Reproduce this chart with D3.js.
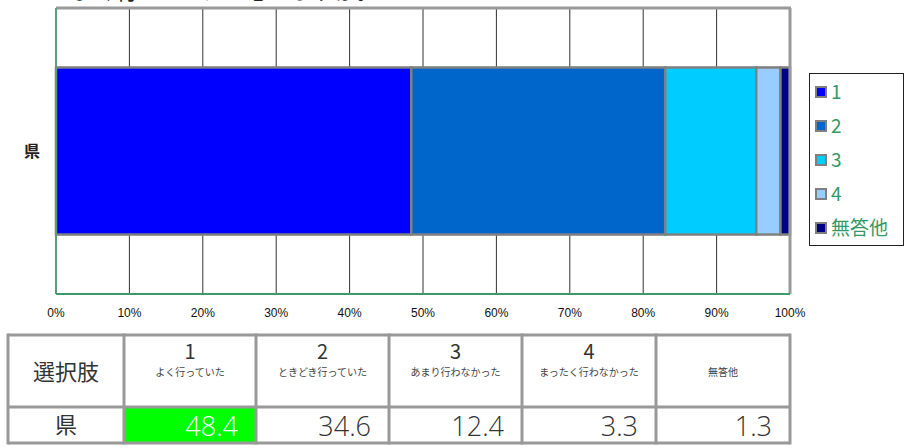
<!DOCTYPE html>
<html><head><meta charset="utf-8">
<script src="https://cdn.jsdelivr.net/npm/d3@7"></script>
<style>body{margin:0;background:#fff;}svg{display:block;font-family:"Noto Sans CJK JP","Noto Sans",sans-serif;}</style>
</head><body>
<svg id="c" width="922" height="448"></svg>
<script>
const title = "よく行っていたと思いますか。";
const categories = ["県"];
const seriesNames = ["1", "2", "3", "4", "無答他"];
const seriesLabels = ["よく行っていた", "ときどき行っていた", "あまり行わなかった", "まったく行わなかった", "無答他"];
const values = [48.4, 34.6, 12.4, 3.3, 1.3];
const colors = ["#0000FF", "#0066CC", "#00CCFF", "#99CCFF", "#000080"];
const tickValues = [0,10,20,30,40,50,60,70,80,90,100];

const svg = d3.select("#c");
const x = d3.scaleLinear().domain([0,100]).range([56,790]);
const y = d3.scaleBand().domain(categories).range([8,294]).paddingInner(0).paddingOuter(0.356);

// title (cut off at top, as in the reference)
svg.append("text").attr("x",72).attr("y",-1).attr("font-size",22).attr("fill","#222").text(title);

// plot background
svg.append("rect").attr("x",x(0)).attr("y",8).attr("width",x(100)-x(0)).attr("height",286).attr("fill","#fff");

// gridlines
svg.append("g").selectAll("line").data(tickValues.slice(1,-1)).join("line")
  .attr("x1",d=>x(d)).attr("x2",d=>x(d)).attr("y1",8).attr("y2",294)
  .attr("stroke","#333").attr("stroke-width",1);

// bars
let cum = 0;
const segs = values.map((v,i)=>{const s={name:seriesNames[i],x0:cum,x1:cum+v,c:colors[i]};cum+=v;return s;});
svg.append("g").selectAll("rect").data(segs).join("rect")
  .attr("x",d=>x(d.x0)).attr("width",d=>x(d.x1)-x(d.x0))
  .attr("y",y("県")).attr("height",y.bandwidth())
  .attr("fill",d=>d.c).attr("stroke","#808080").attr("stroke-width",2.5);

// frame: top & right gray, left & bottom green
svg.append("line").attr("x1",x(0)).attr("x2",x(100)+1).attr("y1",8).attr("y2",8).attr("stroke","#999").attr("stroke-width",3);
svg.append("line").attr("x1",x(100)).attr("x2",x(100)).attr("y1",8).attr("y2",294).attr("stroke","#999").attr("stroke-width",3);
svg.append("line").attr("x1",x(0)).attr("x2",x(0)).attr("y1",8).attr("y2",294).attr("stroke","#5c9c7c").attr("stroke-width",2);
svg.append("line").attr("x1",x(0)).attr("x2",x(100)).attr("y1",294).attr("y2",294).attr("stroke","#3a9a6a").attr("stroke-width",2);

// x axis labels
svg.append("g").selectAll("text").data(tickValues).join("text")
  .attr("x",d=>x(d)).attr("y",317).attr("text-anchor","middle")
  .attr("font-family","Liberation Sans, Arial, sans-serif").attr("font-size",12).attr("fill","#111")
  .text(d=>d+"%");

// category label
svg.append("text").attr("x",32).attr("y",y("県")+y.bandwidth()/2+6).attr("text-anchor","middle")
  .attr("font-size",16).attr("font-weight","bold").attr("fill","#222").text(categories[0]);

// legend
const lg = svg.append("g");
lg.append("rect").attr("x",809.5).attr("y",73.5).attr("width",94).attr("height",172).attr("fill","#fff").attr("stroke","#222").attr("stroke-width",1);
const li = lg.selectAll("g").data(seriesNames).join("g").attr("transform",(d,i)=>`translate(816,${92+i*34})`);
li.append("rect").attr("x",0).attr("y",-5).attr("width",10).attr("height",10)
  .attr("fill",(d,i)=>colors[i]).attr("stroke","#808080").attr("stroke-width",2);
li.append("text").attr("x",15).attr("y",7).attr("font-size",19).attr("fill","#339966").text(d=>d);

// table
const colX = [8,124,256,389,522,656,790];
const rowY = [335,407,443];
const tg = svg.append("g");
tg.append("rect").attr("x",colX[0]).attr("y",rowY[0]).attr("width",colX[6]-colX[0]).attr("height",rowY[2]-rowY[0]).attr("fill","#fff");
tg.append("rect").attr("x",colX[1]).attr("y",rowY[1]).attr("width",colX[2]-colX[1]).attr("height",rowY[2]-rowY[1]).attr("fill","#00FF00");
colX.forEach(cx=>tg.append("line").attr("x1",cx).attr("x2",cx).attr("y1",rowY[0]-1.5).attr("y2",rowY[2]+1.5).attr("stroke","#999").attr("stroke-width",3));
rowY.forEach(ry=>tg.append("line").attr("x1",colX[0]).attr("x2",colX[6]).attr("y1",ry).attr("y2",ry).attr("stroke","#999").attr("stroke-width",3));

tg.append("text").attr("x",(colX[0]+colX[1])/2).attr("y",380).attr("text-anchor","middle").attr("font-size",22).attr("fill","#333").text("選択肢");
tg.append("text").attr("x",(colX[0]+colX[1])/2).attr("y",433).attr("text-anchor","middle").attr("font-size",22).attr("fill","#333").text(categories[0]);

seriesNames.forEach((n,i)=>{
  const cx=(colX[i+1]+colX[i+2])/2;
  if(i<4){
    tg.append("text").attr("x",cx).attr("y",359).attr("text-anchor","middle").attr("font-size",20).attr("fill","#333").text(n);
  }
  tg.append("text").attr("x",cx).attr("y",376).attr("text-anchor","middle").attr("font-size",10).attr("fill","#444").text(seriesLabels[i]);
  tg.append("text").attr("x",colX[i+2]-18).attr("y",436).attr("text-anchor","end").attr("font-size",27)
    .attr("font-family","Open Sans, Noto Sans, sans-serif").attr("font-weight",300)
    .attr("fill",i===0?"#fff":"#333").text(values[i].toFixed(1));
});
</script>
</body></html>
